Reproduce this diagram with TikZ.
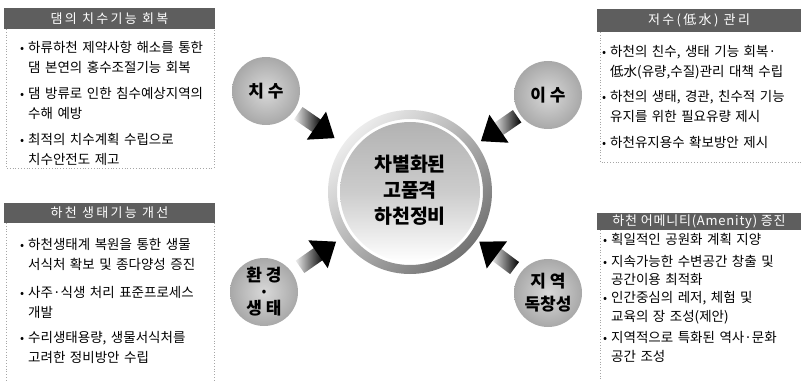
\documentclass[tikz,border=0pt]{standalone}
\usepackage{fontspec}
\setmainfont{Noto Sans CJK KR}
\usetikzlibrary{calc}
\tikzset{
  hdr/.style={fill=hdrgray, draw=none},
  hdrtext/.style={text=white, font=\fontsize{13}{14}\selectfont\addfontfeatures{LetterSpace=18}},
  border/.style={draw=gray!70, dotted, line width=0.8pt},
  bul/.style={anchor=base west, inner sep=0pt, font=\fontsize{12}{20}\selectfont},
  item/.style={anchor=base west, inner sep=0pt, text width=200pt, align=left, font=\fontsize{13.5}{20}\selectfont},
  itemb/.style={item, font=\fontsize{13.5}{18.5}\selectfont},
  topic/.style={circle, minimum size=68pt, inner sep=0pt, inner color=gray!30, outer color=gray!68, shade, align=center, font=\bfseries\fontsize{17}{17}\selectfont},
  barrow/.pic={
    \shade[left color=gray!15, right color=black] (-22,-7.5) rectangle (2,7.5);
    \fill[black] (0,-17) -- (22,0) -- (0,17) -- cycle;
  }
}
\definecolor{hdrgray}{HTML}{5E5E5E}
\begin{document}
\begin{tikzpicture}[x=1pt,y=1pt]
\useasboundingbox (0,0) rectangle (801,381);
% ---- top-left box
\draw[border] (6,352) -- (6,213) -- (214,213) -- (214,352);
\fill[hdr] (4,373) rectangle (215,352);
\node[hdrtext] (h1) at (109.5,362.5) {댐의 치수기능 회복};
\node[bul] (b11) at (20,328.5) {•};
\node[item] (t11) at (28,328.5) {하류하천 제약사항 해소를 통한\\댐 본연의 홍수조절기능 회복};
\node[bul] (b12) at (20,282.5) {•};
\node[item] (t12) at (28,282.5) {댐 방류로 인한 침수예상지역의\\수해 예방};
\node[bul] (b13) at (20,236.5) {•};
\node[item] (t13) at (28,236.5) {최적의 치수계획 수립으로\\치수안전도 제고};
% ---- top-right box
\draw[border] (600,349) -- (600,219) -- (801,219);
\fill[hdr] (597,372) rectangle (801,349);
\node[hdrtext] (h2) at (699,360.5) {저수(低水) 관리};
\node[bul] (b21) at (602,324.5) {•};
\node[item] (t21) at (610,324.5) {하천의 친수, 생태 기능 회복·\\低水(유량,수질)관리 대책 수립};
\node[bul] (b22) at (602,279.5) {•};
\node[item] (t22) at (610,279.5) {하천의 생태, 경관, 친수적 기능\\유지를 위한 필요유량 제시};
\node[bul] (b23) at (602,233.5) {•};
\node[item] (t23) at (610,233.5) {하천유지용수 확보방안 제시};
% ---- bottom-left box
\draw[border] (6,158) -- (6,0);
\draw[border] (214,158) -- (214,0);
\fill[hdr] (4,178) rectangle (215,158);
\node[hdrtext] (h3) at (109.5,168) {하천 생태기능 개선};
\node[bul] (b31) at (20,131.5) {•};
\node[item] (t31) at (28,131.5) {하천생태계 복원을 통한 생물\\서식처 확보 및 종다양성 증진};
\node[bul] (b32) at (20,83.5) {•};
\node[item] (t32) at (28,83.5) {사주·식생 처리 표준프로세스\\개발};
\node[bul] (b33) at (20,38.5) {•};
\node[item] (t33) at (28,38.5) {수리생태용량, 생물서식처를\\고려한 정비방안 수립};
% ---- bottom-right box
\draw[border] (600,151) -- (600,0);
\fill[hdr] (597,168) rectangle (801,151);
\node[hdrtext, font=\fontsize{13}{14}\selectfont\addfontfeatures{LetterSpace=6}] (h4) at (699,159.5) {하천 어메니티(Amenity) 증진};
\node[bul] (b41) at (603,136.5) {•};
\node[itemb] (t41) at (611,136.5) {획일적인 공원화 계획 지양};
\node[bul] (b42) at (603,114.5) {•};
\node[itemb] (t42) at (611,114.5) {지속가능한 수변공간 창출 및\\공간이용 최적화};
\node[bul] (b43) at (603,78.5) {•};
\node[itemb] (t43) at (611,78.5) {인간중심의 레저, 체험 및\\교육의 장 조성(제안)};
\node[bul] (b44) at (603,38.5) {•};
\node[itemb] (t44) at (611,38.5) {지역적으로 특화된 역사·문화\\공간 조성};
% ---- centre circle
\shade[even odd rule, top color=gray!15, bottom color=gray!90!black, shading angle=45]
  (410,189) circle (82) (410,189) circle (73);
\shade[top color=gray!60, bottom color=white, middle color=gray!40] (410,189) circle (70);
\node[circle, minimum size=164pt, inner sep=0pt, align=center,
      font=\bfseries\fontsize{19.5}{26}\selectfont] (ctr) at (410,191) {차별화된\\고품격\\하천정비};
% ---- topic circles
\node[topic] (s1) at (266,290) {치 수};
\node[topic] (s2) at (548,286) {이 수};
\node[topic, font=\bfseries\fontsize{17}{16.5}\selectfont] (s3) at (264,89) {환 경\\·\\생 태};
\node[topic, font=\bfseries\fontsize{17}{23}\selectfont] (s4) at (548,88) {지 역\\독창성};
% ---- arrows
\path (s1.center) -- (ctr.center) pic[pos=0.35, sloped, allow upside down] {barrow};
\path (s2.center) -- (ctr.center) pic[pos=0.355, sloped, allow upside down] {barrow};
\path (s3.center) -- (ctr.center) pic[pos=0.37, sloped, allow upside down] {barrow};
\path (s4.center) -- (ctr.center) pic[pos=0.37, sloped, allow upside down] {barrow};
\end{tikzpicture}
\end{document}
